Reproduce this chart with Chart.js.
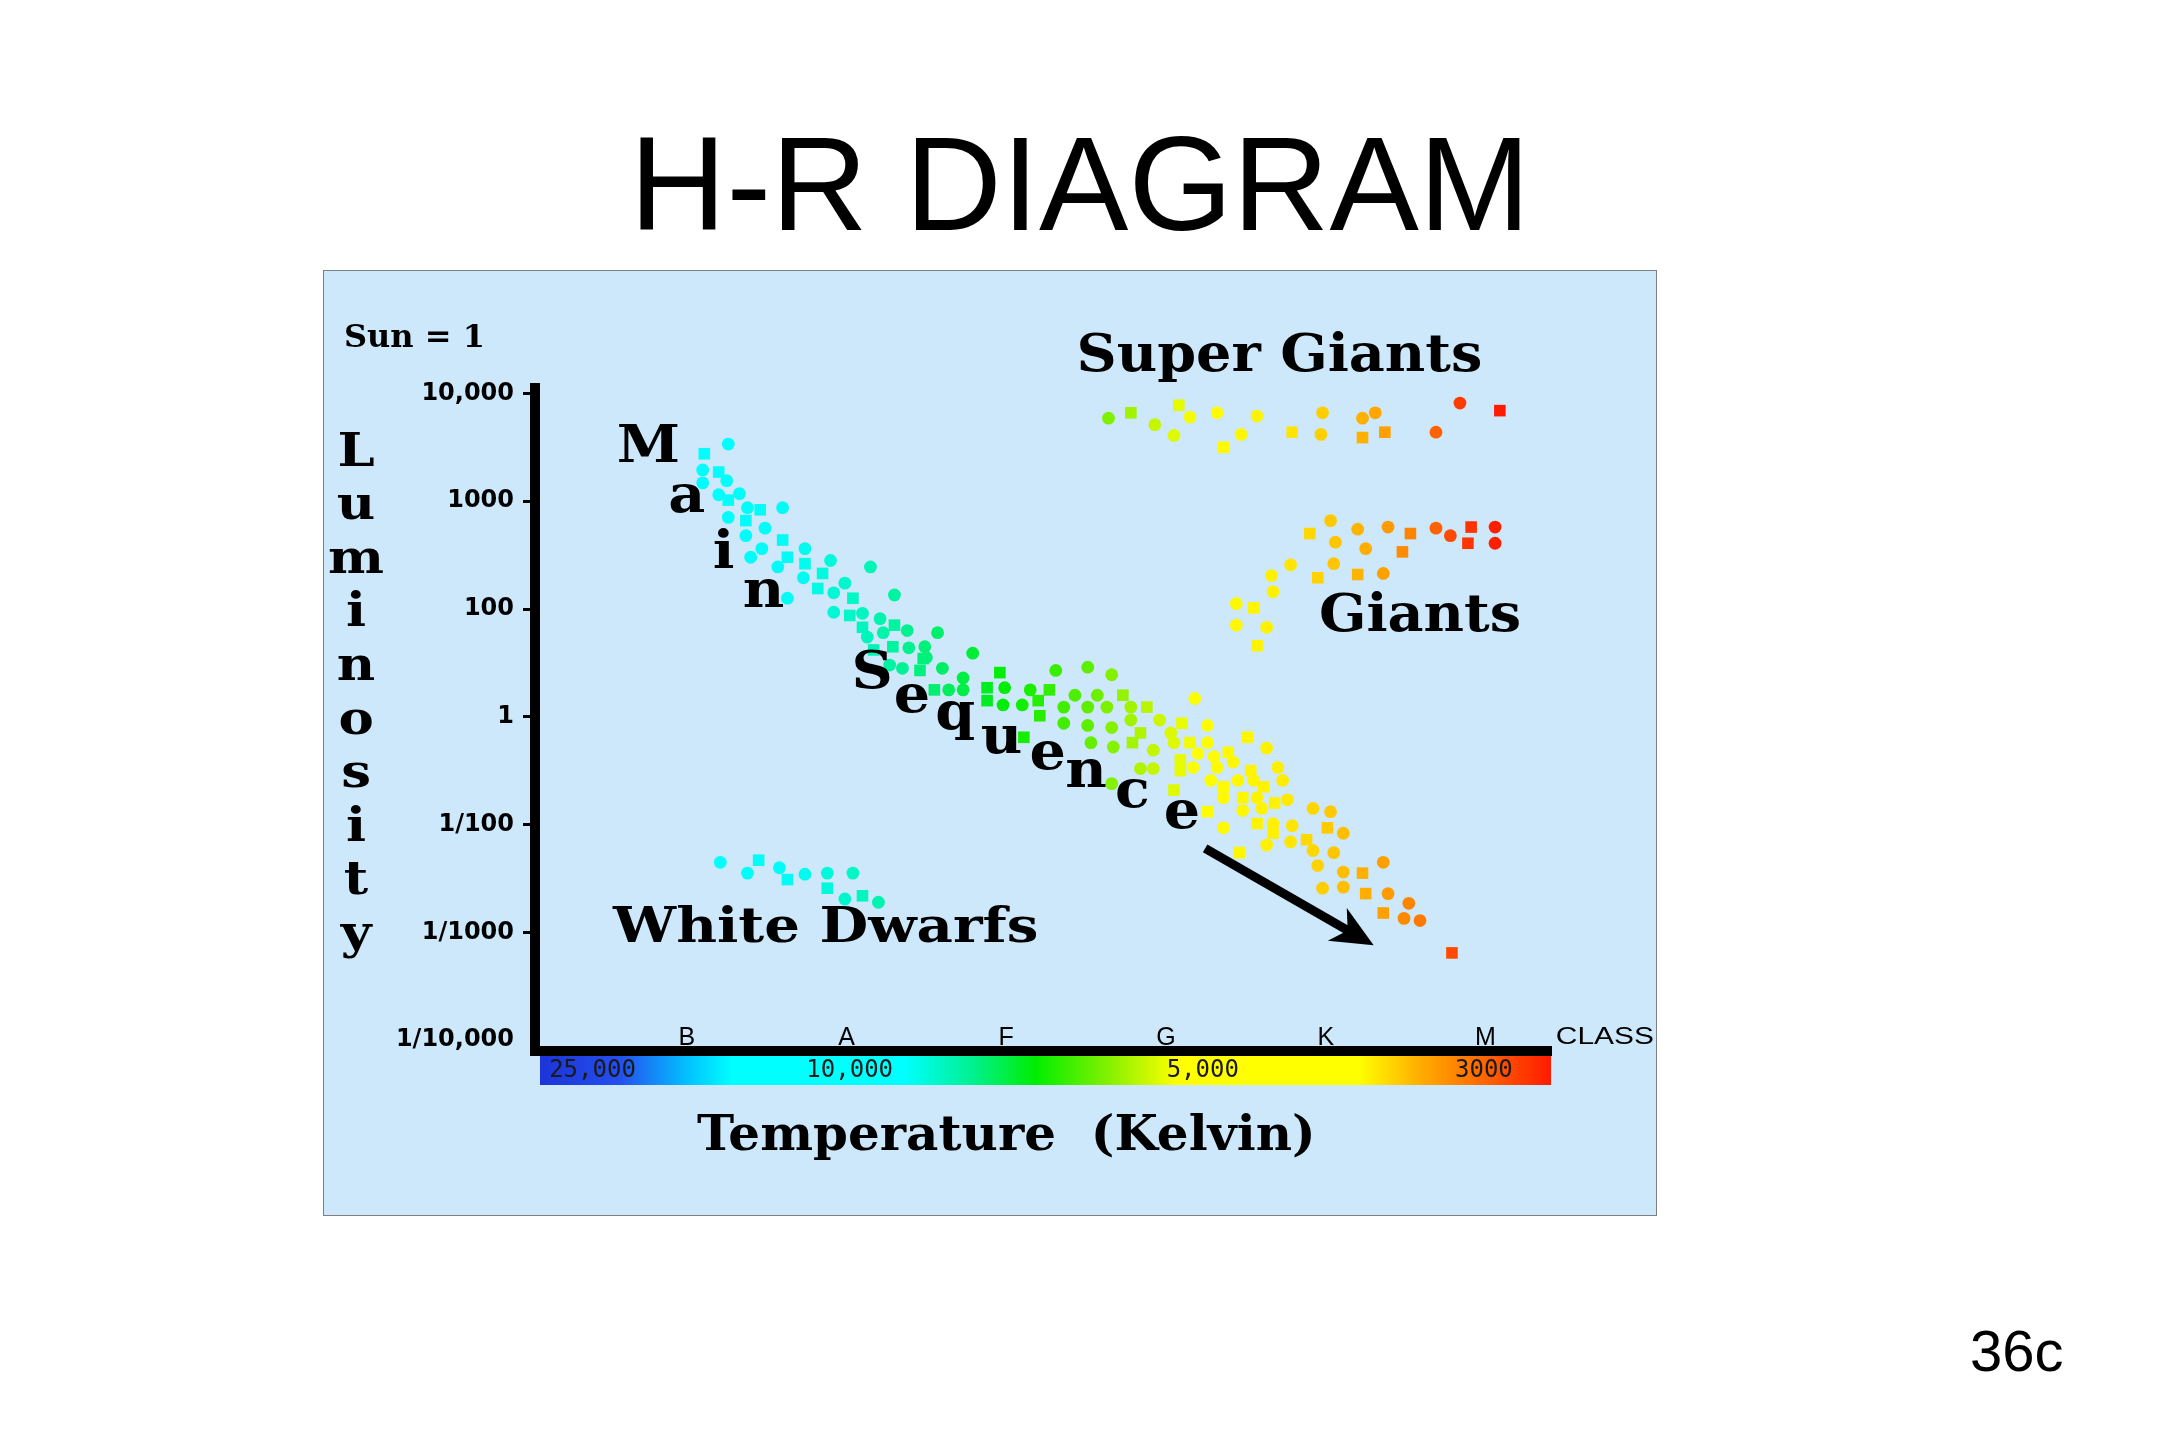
<!DOCTYPE html>
<html>
<head>
<meta charset="utf-8">
<title>H-R Diagram</title>
<script src="https://cdn.jsdelivr.net/npm/chart.js@4.4.1/dist/chart.umd.min.js"></script>
<style>
  html, body { margin: 0; padding: 0; background: #ffffff; }
  body { width: 2160px; height: 1440px; position: relative; overflow: hidden; font-family: "Liberation Sans", Arial, sans-serif; }
  #title { position: absolute; left: 0; top: 117px; width: 2160px; text-align: center; font-size: 134px; line-height: 134px; color: #000; }
  #page { position: absolute; left: 1970px; top: 1322px; font-size: 58px; line-height: 58px; color: #000; }
  #panel { position: absolute; left: 323px; top: 270px; width: 1332px; height: 944px; background: #cce8fa; border: 1px solid #7f7f7f; }
  #panel canvas { display: block; }
</style>
</head>
<body>
<div id="title">H-R DIAGRAM</div>
<div id="panel"><canvas id="hr_chart" width="1332" height="944"></canvas></div>
<div id="page">36c</div>
<script>
// axis labels: spectral class along the bottom, luminosity steps up the side
var classLabels = ['B', 'A', 'F', 'G', 'K', 'M'];
var lumLabels = ['1/10,000', '1/1000', '1/100', '1', '100', '1000', '10,000'];
var tempLabels = ['25,000', '10,000', '5,000', '3000'];
var tempTicks = [0.41, 2.02, 4.23, 5.99];

// stars as [class position, luminosity step]
var mainSequence = [
    [1.26, 5.53], [1.11, 5.44], [1.10, 5.29], [1.10, 5.17], [1.20, 5.27], [1.25, 5.19], [1.20, 5.06], [1.26, 5.01],
    [1.33, 5.07], [1.38, 4.94], [1.46, 4.92], [1.60, 4.94], [1.26, 4.85], [1.37, 4.82], [1.49, 4.75], [1.37, 4.68],
    [1.60, 4.64], [1.47, 4.56], [1.40, 4.48], [1.63, 4.48], [1.57, 4.39], [1.74, 4.56], [1.74, 4.42], [1.73, 4.29],
    [1.90, 4.45], [1.85, 4.33], [2.15, 4.39], [1.63, 4.10], [1.82, 4.19], [1.92, 4.15], [1.99, 4.24], [2.04, 4.10],
    [1.92, 3.97], [2.30, 4.13], [2.02, 3.94], [2.10, 3.96], [2.21, 3.91], [2.10, 3.83], [2.13, 3.74], [2.23, 3.78],
    [2.30, 3.85], [2.38, 3.80], [2.57, 3.78], [2.29, 3.65], [2.39, 3.64], [2.49, 3.65], [2.17, 3.62], [2.27, 3.48],
    [2.35, 3.45], [2.46, 3.43], [2.60, 3.45], [2.50, 3.55], [2.48, 3.54], [2.79, 3.59], [2.73, 3.36], [2.96, 3.41],
    [3.31, 3.43], [3.51, 3.46], [2.55, 3.25], [2.64, 3.25], [2.73, 3.25], [2.88, 3.27], [2.99, 3.27], [3.15, 3.25],
    [3.27, 3.25], [3.43, 3.20], [3.57, 3.20], [2.88, 3.15], [2.98, 3.11], [3.10, 3.11], [3.20, 3.15], [3.36, 3.09],
    [3.51, 3.09], [3.21, 3.01], [3.36, 2.94], [3.51, 2.92], [3.11, 2.81], [3.53, 2.76], [3.66, 3.39], [3.73, 3.20],
    [3.63, 3.09], [3.78, 3.09], [3.88, 3.09], [3.66, 2.90], [3.78, 2.97], [3.84, 2.85], [3.96, 2.97], [4.03, 2.85],
    [4.10, 2.94], [4.18, 3.17], [3.67, 2.72], [3.79, 2.76], [3.92, 2.69], [4.05, 2.76], [4.15, 2.76], [3.84, 2.52],
    [3.92, 2.52], [4.09, 2.60], [4.17, 2.53], [3.66, 2.38], [4.05, 2.32], [4.26, 2.92], [4.26, 2.76], [4.51, 2.81],
    [4.63, 2.71], [4.30, 2.63], [4.39, 2.67], [4.32, 2.53], [4.42, 2.58], [4.53, 2.50], [4.70, 2.53], [4.28, 2.41],
    [4.36, 2.35], [4.45, 2.41], [4.55, 2.41], [4.61, 2.35], [4.73, 2.41], [4.36, 2.25], [4.48, 2.25], [4.57, 2.25],
    [4.76, 2.23], [4.26, 2.12], [4.48, 2.13], [4.60, 2.15], [4.68, 2.20], [4.92, 2.15], [5.03, 2.12], [4.57, 2.01],
    [4.67, 2.01], [4.79, 1.99], [5.01, 1.97], [5.11, 1.92], [4.36, 1.97], [4.67, 1.92], [4.63, 1.81], [4.78, 1.84],
    [4.88, 1.86], [4.92, 1.76], [5.05, 1.74], [4.46, 1.74], [4.95, 1.62], [5.11, 1.56], [5.23, 1.55], [5.36, 1.65],
    [4.20, 2.66], [4.09, 2.50], [4.98, 1.41], [5.11, 1.42], [5.25, 1.36], [5.39, 1.36], [5.52, 1.27], [5.36, 1.18],
    [5.49, 1.13], [5.59, 1.11], [5.79, 0.81]
];
var giants = [
    [5.03, 4.82], [4.90, 4.70], [5.20, 4.74], [5.39, 4.76], [5.53, 4.70], [5.69, 4.75], [5.78, 4.68], [5.91, 4.76],
    [6.06, 4.76], [6.06, 4.61], [5.89, 4.61], [5.06, 4.62], [5.25, 4.56], [5.48, 4.53], [4.78, 4.41], [5.05, 4.42],
    [5.20, 4.32], [5.36, 4.33], [4.66, 4.31], [4.95, 4.29], [4.67, 4.16], [4.44, 4.05], [4.55, 4.01], [4.44, 3.85],
    [4.63, 3.83], [4.57, 3.66]
];
var superGiants = [
    [3.64, 5.77], [3.78, 5.82], [3.93, 5.71], [4.05, 5.61], [4.08, 5.89], [4.15, 5.78], [4.32, 5.82], [4.36, 5.50],
    [4.47, 5.62], [4.57, 5.79], [4.79, 5.64], [4.97, 5.62], [4.98, 5.82], [5.23, 5.59], [5.23, 5.77], [5.31, 5.82],
    [5.37, 5.64], [5.69, 5.64], [5.84, 5.91], [6.09, 5.84]
];
var whiteDwarfs = [
    [1.21, 1.65], [1.45, 1.67], [1.38, 1.55], [1.58, 1.60], [1.63, 1.49], [1.74, 1.54], [1.88, 1.55], [1.88, 1.41],
    [2.04, 1.55], [1.99, 1.31], [2.10, 1.34], [2.20, 1.28]
];

// star colour follows the temperature scale
var starStops = [
    [0.9, '#00ffff'], [1.7, '#00fcf4'], [2.2, '#00f4b0'], [2.6, '#00ee66'], [3.0, '#00ee00'],
    [3.5, '#5cee00'], [3.9, '#bff500'], [4.2, '#ffff00'], [4.7, '#fff000'], [5.0, '#ffcc00'],
    [5.35, '#ffa200'], [5.6, '#ff7800'], [5.85, '#ff3a00'], [6.1, '#ff1a00']
];
var barStops = [
    [0, '#1c34d8'], [0.08, '#2450ee'], [0.15, '#00c8ff'], [0.19, '#00ffff'], [0.36, '#00ffff'],
    [0.43, '#00f08c'], [0.49, '#00ee00'], [0.56, '#80f000'], [0.63, '#ffff00'], [0.81, '#ffff00'],
    [0.87, '#ffae00'], [0.93, '#ff6a00'], [1, '#ff1a00']
];

var serif = '"DejaVu Serif", serif';
var notes = [
    {text: 'Sun = 1', x: -1.146, y: 6.43, size: 32, sx: 1, align: 'left'},
    {text: 'Super Giants', x: 4.71, y: 6.21, size: 52, sx: 1.07},
    {text: 'Giants', x: 5.59, y: 3.80, size: 52, sx: 1.07},
    {text: 'White Dwarfs', x: 1.87, y: 0.91, size: 48, sx: 1.17},
    {text: 'Temperature  (Kelvin)', x: 3.0, y: -1.02, size: 49, sx: 1.02}
];
var mainLetters = [
    ['M', 0.76, 5.36], ['a', 1.00, 4.90], ['i', 1.23, 4.38], ['n', 1.48, 4.02],
    ['S', 2.16, 3.27], ['e', 2.41, 3.04], ['q', 2.68, 2.89], ['u', 2.97, 2.66],
    ['e', 3.26, 2.52], ['n', 3.50, 2.35], ['c', 3.79, 2.16], ['e', 4.10, 1.97]
];
var arrowFrom = [4.245, 1.78];
var arrowTo = [5.30, 0.88];

function hexToRgb(h) {
    return [parseInt(h.substr(1, 2), 16), parseInt(h.substr(3, 2), 16), parseInt(h.substr(5, 2), 16)];
}

function starColor(x) {
    if (x <= starStops[0][0]) return starStops[0][1];
    for (var i = 1; i < starStops.length; i++) {
        if (x <= starStops[i][0]) {
            var a = starStops[i - 1], b = starStops[i];
            var t = (x - a[0]) / (b[0] - a[0]);
            var ca = hexToRgb(a[1]), cb = hexToRgb(b[1]);
            return 'rgb(' + ca.map(function (v, k) { return Math.round(v + (cb[k] - v) * t); }).join(',') + ')';
        }
    }
    return starStops[starStops.length - 1][1];
}

function starSet(label, pts) {
    return {
        label: label,
        data: pts.map(function (p) { return {x: p[0], y: p[1]}; }),
        pointStyle: function (ctx) { return ctx.dataIndex % 3 === 1 ? 'rect' : 'circle'; },
        pointRadius: function (ctx) { return ctx.dataIndex % 3 === 1 ? 8.2 : 6.4; },
        backgroundColor: function (ctx) { return ctx.raw ? starColor(ctx.raw.x) : '#000'; },
        borderWidth: 0,
        showLine: false
    };
}

function putText(ctx, text, px, py, font, sx, align) {
    ctx.save();
    ctx.font = font;
    ctx.fillStyle = '#000';
    ctx.textAlign = align || 'center';
    ctx.textBaseline = 'alphabetic';
    ctx.translate(px, py);
    ctx.scale(sx || 1, 1);
    ctx.fillText(text, 0, 0);
    ctx.restore();
}

var hrDecor = {
    id: 'hrDecor',
    beforeDraw: function (chart) {
        var ctx = chart.ctx, area = chart.chartArea, band = chart.scales.x2;
        var left = area.left + 5;
        var g = ctx.createLinearGradient(left, 0, area.right, 0);
        barStops.forEach(function (s) { g.addColorStop(s[0], s[1]); });
        ctx.save();
        ctx.fillStyle = g;
        ctx.fillRect(left, band.top + 4, area.right - left, 30);
        ctx.restore();
    },
    afterDatasetsDraw: function (chart) {
        var ctx = chart.ctx, xs = chart.scales.x, ys = chart.scales.y;
        var px = function (v) { return xs.getPixelForValue(v); };
        var py = function (v) { return ys.getPixelForValue(v); };

        notes.forEach(function (n) {
            putText(ctx, n.text, px(n.x), py(n.y), 'bold ' + n.size + 'px ' + serif, n.sx, n.align);
        });
        mainLetters.forEach(function (l) {
            putText(ctx, l[0], px(l[1]), py(l[2]), 'bold 52px ' + serif, 1.1);
        });
        'Luminosity'.split('').forEach(function (ch, i) {
            putText(ctx, ch, px(-1.07), py(5.33 - 0.497 * i), 'bold 46px ' + serif, 1.15);
        });
        putText(ctx, 'CLASS', px(6.44), py(0) + 4, '23px "Liberation Sans"', 1.3, 'left');

        // arrow down the main sequence
        var x0 = px(arrowFrom[0]), y0 = py(arrowFrom[1]);
        var x1 = px(arrowTo[0]), y1 = py(arrowTo[1]);
        var ang = Math.atan2(y1 - y0, x1 - x0), c = Math.cos(ang), s = Math.sin(ang);
        ctx.save();
        ctx.strokeStyle = '#000';
        ctx.fillStyle = '#000';
        ctx.lineWidth = 9;
        ctx.beginPath();
        ctx.moveTo(x0, y0);
        ctx.lineTo(x1 - 28 * c, y1 - 28 * s);
        ctx.stroke();
        ctx.beginPath();
        ctx.moveTo(x1, y1);
        ctx.lineTo(x1 - 42 * c + 19 * s, y1 - 42 * s - 19 * c);
        ctx.lineTo(x1 - 30 * c, y1 - 30 * s);
        ctx.lineTo(x1 - 42 * c - 19 * s, y1 - 42 * s + 19 * c);
        ctx.closePath();
        ctx.fill();
        ctx.restore();
    }
};

new Chart(document.getElementById('hr_chart').getContext('2d'), {
    type: 'scatter',
    data: {
        datasets: [
            starSet('Main Sequence', mainSequence),
            starSet('Giants', giants),
            starSet('Super Giants', superGiants),
            starSet('White Dwarfs', whiteDwarfs)
        ]
    },
    options: {
        responsive: false,
        animation: false,
        devicePixelRatio: 1,
        layout: {padding: {left: 0, top: 117, right: 105, bottom: 0}},
        plugins: {legend: {display: false}, tooltip: {enabled: false}},
        scales: {
            x: {
                // sits on the bottom edge of the plot so the class letters can ride above the line
                type: 'linear', position: {y: -0.1}, min: 0.05, max: 6.41,
                afterBuildTicks: function (s) { s.ticks = classLabels.map(function (c, i) { return {value: i + 1}; }); },
                grid: {display: false, drawTicks: false},
                border: {display: true, color: '#000', width: 10},
                ticks: {
                    autoSkip: false, maxRotation: 0, padding: -28, color: '#000',
                    font: {family: 'Liberation Sans', size: 25},
                    callback: function (v) { return classLabels[Math.round(v) - 1]; }
                }
            },
            x2: {
                type: 'linear', position: 'bottom', min: 0.05, max: 6.41,
                afterBuildTicks: function (s) { s.ticks = tempTicks.map(function (v) { return {value: v}; }); },
                afterFit: function (s) { s.height = 164; },
                grid: {display: false, drawTicks: false},
                border: {display: false},
                ticks: {
                    autoSkip: false, maxRotation: 0, padding: 5, color: '#1a1a1a',
                    font: {family: 'DejaVu Sans Mono', size: 24},
                    callback: function (v, i) { return tempLabels[i]; }
                }
            },
            y: {
                type: 'linear', position: 'left', min: -0.1, max: 6.05,
                afterBuildTicks: function (s) { s.ticks = lumLabels.map(function (l, i) { return {value: i}; }); },
                afterFit: function (s) { s.width = 211; },
                grid: {
                    drawOnChartArea: false, drawTicks: true, tickLength: 12, tickWidth: 3,
                    tickColor: function (c) { return c.tick && c.tick.value === 0 ? 'rgba(0,0,0,0)' : '#000'; }
                },
                border: {display: true, color: '#000', width: 10},
                ticks: {
                    padding: 9, color: '#000',
                    font: {family: 'DejaVu Sans', size: 24, weight: 'bold'},
                    callback: function (v) { return lumLabels[Math.round(v)]; }
                }
            }
        }
    },
    plugins: [hrDecor]
});
</script>
</body>
</html>
